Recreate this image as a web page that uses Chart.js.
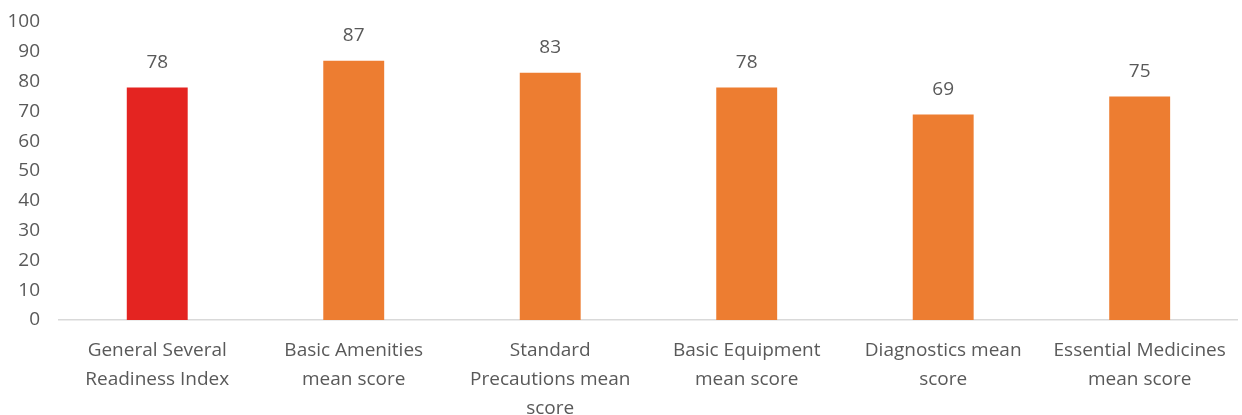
<!DOCTYPE html>
<html>
<head>
<meta charset="utf-8">
<script src="https://cdn.jsdelivr.net/npm/chart.js@4/dist/chart.umd.min.js"></script>
<style>
  html, body { margin: 0; padding: 0; background: #fff; }
  #wrap { width: 1242px; height: 415px; }
</style>
</head>
<body>
<div id="wrap"><canvas id="c" width="1242" height="415"></canvas></div>
<script>
const categories = [
  ["General Several", "Readiness Index"],
  ["Basic Amenities", "mean score"],
  ["Standard", "Precautions mean", "score"],
  ["Basic Equipment", "mean score"],
  ["Diagnostics mean", "score"],
  ["Essential Medicines", "mean score"]
];
const scores = [78, 87, 83, 78, 69, 75];
const barColors = ["#E42421", "#ED7D31", "#ED7D31", "#ED7D31", "#ED7D31", "#ED7D31"];

const textColor = "#595959";
const fontFamily = "'Open Sans', sans-serif";
const fontSize = 19;

// Value labels above each bar
const valueLabels = {
  id: "valueLabels",
  afterDatasetsDraw(chart) {
    const ctx = chart.ctx;
    const meta = chart.getDatasetMeta(0);
    ctx.save();
    ctx.fillStyle = textColor;
    ctx.font = fontSize + "px " + fontFamily;
    ctx.textAlign = "center";
    ctx.textBaseline = "middle";
    meta.data.forEach((bar, i) => {
      ctx.fillText(String(scores[i]), bar.x, bar.y - 25);
    });
    ctx.restore();
  }
};

new Chart(document.getElementById("c"), {
  type: "bar",
  data: {
    labels: categories,
    datasets: [{
      data: scores,
      backgroundColor: barColors,
      borderWidth: 0,
      categoryPercentage: 1,
      barPercentage: 0.31
    }]
  },
  options: {
    responsive: false,
    animation: false,
    layout: { padding: { top: 0, right: 2, left: 0, bottom: 0 } },
    plugins: {
      legend: { display: false },
      tooltip: { enabled: false }
    },
    scales: {
      y: {
        min: 0,
        max: 100,
        afterFit(scale) {
          scale.width = 59;
          scale.paddingTop = 22;
        },
        ticks: {
          stepSize: 10,
          color: textColor,
          font: { size: fontSize, family: fontFamily },
          padding: 19
        },
        grid: { display: false, drawTicks: false },
        border: { display: false }
      },
      x: {
        afterFit(scale) { scale.height = 95; },
        ticks: {
          color: textColor,
          font: { size: fontSize, family: fontFamily, lineHeight: 1.52 },
          padding: 16,
          maxRotation: 0,
          autoSkip: false
        },
        grid: { display: false, drawTicks: false },
        border: { display: true, color: "#D9D9D9", width: 1.5 }
      }
    }
  },
  plugins: [valueLabels]
});
</script>
</body>
</html>
